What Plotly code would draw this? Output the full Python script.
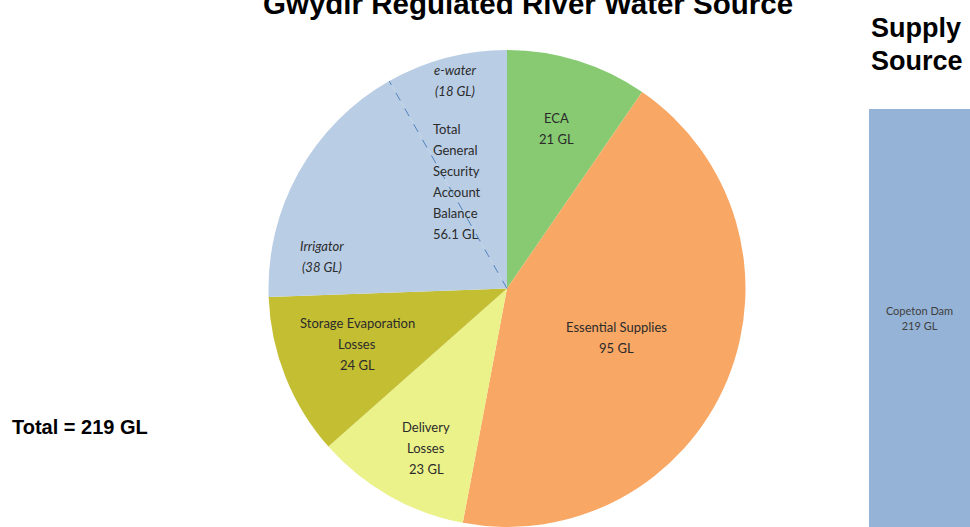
import math
import plotly.graph_objects as go

# ---- data ----
slice_labels = ["ECA", "Essential Supplies", "Delivery Losses",
                "Storage Evaporation Losses", "Irrigator", "e-water"]
slice_values = [21, 95, 23, 24, 38, 18]
slice_colors = ["#87CA72", "#F8A765", "#EBF28A", "#C4BE33", "#B9CDE5", "#B9CDE5"]
gs_balance = 56.1
total_gl = 219
supply_names = ["Copeton Dam"]
supply_values = [219]

W, H = 970, 527
# pie geometry in pixels
cx, cy, r = 507, 288.5, 238.5
LINE = 21  # label line spacing (px)


def px(x):
    return x / W


def py(y):
    return 1 - y / H


fig = go.Figure()

fig.add_trace(go.Pie(
    labels=slice_labels,
    values=slice_values,
    sort=False,
    direction="clockwise",
    rotation=0,
    marker=dict(colors=slice_colors, line=dict(width=0)),
    textinfo="none",
    hoverinfo="label+value",
    showlegend=False,
    domain=dict(x=[px(cx - r), px(cx + r)], y=[py(cy + r), py(cy - r)]),
))

fig.add_trace(go.Bar(
    x=supply_names,
    y=supply_values,
    marker=dict(color="#95B3D7", line=dict(width=0)),
    text=[f"{n}<br>{v} GL" for n, v in zip(supply_names, supply_values)],
    textposition="inside",
    insidetextanchor="middle",
    textfont=dict(family="Lato", size=11, color="#404040"),
    hoverinfo="skip",
    showlegend=False,
    xaxis="x", yaxis="y",
))

# dashed divider between irrigator and e-water, derived from values
theta = math.radians(360 * slice_values[5] / sum(slice_values))
ex = cx - r * math.sin(theta)
ey = cy - r * math.cos(theta)
fig.add_shape(type="line", xref="paper", yref="paper",
              x0=px(cx), y0=py(cy), x1=px(ex), y1=py(ey),
              line=dict(color="#4F81BD", width=1, dash="dash"))

lab_font = dict(family="Lato", size=13, color="#2B2B2B")
labels = [
    (["ECA", "21 GL"], 556, 118, "center"),
    (["Essential Supplies", "95 GL"], 616, 327, "center"),
    (["Delivery", "Losses", "23 GL"], 426, 427, "center"),
    (["Storage Evaporation", "Losses", "24 GL"], 357, 323, "center"),
    (["<i>Irrigator</i>", "<i>(38 GL)</i>"], 322, 246, "center"),
    (["<i>e-water</i>", "<i>(18 GL)</i>"], 455, 70, "center"),
    (["Total", "General", "Security", "Account", "Balance", f"{gs_balance} GL"],
     431, 129, "left"),
]
for lines, x, y0, al in labels:
    for i, t in enumerate(lines):
        fig.add_annotation(text=t, x=px(x), y=py(y0 + i * LINE),
                           xref="paper", yref="paper", showarrow=False,
                           font=lab_font, xanchor=al, yanchor="middle")

fig.add_annotation(text="<b>Gwydir Regulated River Water Source</b>",
                   x=px(528), y=py(4), xref="paper", yref="paper",
                   showarrow=False, xanchor="center", yanchor="middle",
                   font=dict(family="Liberation Sans", size=29.5, color="#000000"))
for i, t in enumerate(["Supply", "Source"]):
    fig.add_annotation(text=f"<b>{t}</b>",
                       x=px(869), y=py(28 + i * 33), xref="paper", yref="paper",
                       showarrow=False, xanchor="left", yanchor="middle",
                       font=dict(family="Liberation Sans", size=27, color="#000000"))
fig.add_annotation(text=f"<b>Total = {total_gl} GL</b>",
                   x=px(10), y=py(427), xref="paper", yref="paper",
                   showarrow=False, xanchor="left", yanchor="middle",
                   font=dict(family="Liberation Sans", size=20, color="#000000"))

fig.update_layout(
    width=W, height=H,
    margin=dict(l=0, r=0, t=0, b=0),
    paper_bgcolor="white", plot_bgcolor="white",
    bargap=0,
    xaxis=dict(domain=[px(869), 1], visible=False, range=[-0.5, 0.5], fixedrange=True),
    yaxis=dict(domain=[0, 1], visible=False, range=[0, supply_values[0] * H / (H - 109)],
               fixedrange=True),
)

fig.write_html(
    "out.html",
    config={"displayModeBar": False},
    post_script="document.body.style.margin='0';"
                "document.body.style.overflow='hidden';"
                "document.documentElement.style.overflow='hidden';",
)
